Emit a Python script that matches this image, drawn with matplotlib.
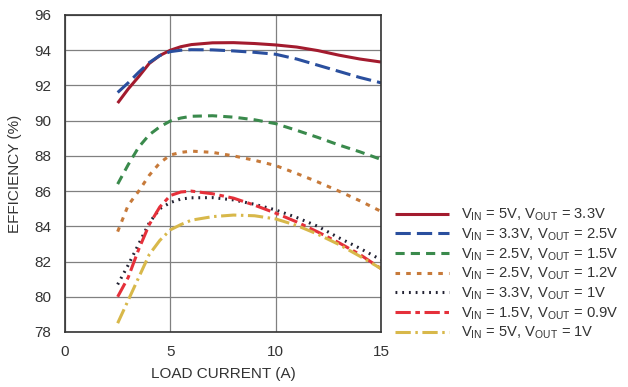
import matplotlib
matplotlib.use("Agg")
import matplotlib.pyplot as plt
from matplotlib import font_manager

names = {f.name for f in font_manager.fontManager.ttflist}
fam = "Liberation Sans Narrow" if "Liberation Sans Narrow" in names else "Liberation Sans"
plt.rcParams['font.family'] = [fam, 'DejaVu Sans']
plt.rcParams['mathtext.default'] = 'regular'

x = [2.5, 3, 3.5, 4, 4.5, 5, 5.5, 6, 7, 8, 9, 10, 11, 12, 13, 14, 15]
s_5_33 = [91.0, 91.8, 92.5, 93.25, 93.7, 94.0, 94.2, 94.32, 94.42, 94.43, 94.38, 94.3, 94.18, 93.98, 93.72, 93.5, 93.33]
s_33_25 = [91.6, 92.15, 92.75, 93.3, 93.7, 93.92, 94.0, 94.03, 94.02, 93.96, 93.88, 93.77, 93.5, 93.15, 92.8, 92.45, 92.15]
s_25_15 = [86.4, 87.5, 88.5, 89.2, 89.65, 89.98, 90.15, 90.25, 90.28, 90.2, 90.05, 89.83, 89.45, 89.05, 88.62, 88.23, 87.8]
s_25_12 = [83.7, 85.2, 86.0, 86.9, 87.6, 88.05, 88.2, 88.27, 88.2, 88.0, 87.75, 87.45, 87.0, 86.52, 86.0, 85.45, 84.85]
s_33_1 = [80.7, 81.8, 83.0, 84.2, 85.0, 85.35, 85.55, 85.62, 85.63, 85.5, 85.25, 84.93, 84.5, 84.0, 83.35, 82.75, 82.1]
s_15_09 = [80.0, 81.1, 82.7, 84.1, 85.1, 85.75, 85.95, 86.0, 85.85, 85.6, 85.2, 84.75, 84.25, 83.68, 83.07, 82.4, 81.6]
s_5_1 = [78.5, 79.8, 81.1, 82.4, 83.2, 83.8, 84.1, 84.35, 84.55, 84.64, 84.6, 84.42, 84.05, 83.55, 82.97, 82.3, 81.6]

labels = [
    "V$_{IN}$ = 5V, V$_{OUT}$ = 3.3V",
    "V$_{IN}$ = 3.3V, V$_{OUT}$ = 2.5V",
    "V$_{IN}$ = 2.5V, V$_{OUT}$ = 1.5V",
    "V$_{IN}$ = 2.5V, V$_{OUT}$ = 1.2V",
    "V$_{IN}$ = 3.3V, V$_{OUT}$ = 1V",
    "V$_{IN}$ = 1.5V, V$_{OUT}$ = 0.9V",
    "V$_{IN}$ = 5V, V$_{OUT}$ = 1V",
]
series = [s_5_33, s_33_25, s_25_15, s_25_12, s_33_1, s_15_09, s_5_1]
colors = ['#a31b2e', '#2a4f9e', '#3a8a4c', '#c77a3a', '#222233', '#e5303a', '#d8b84a']
styles = ['-', (0, (5, 2)), (0, (3, 2)), (0, (1.5, 2)), (0, (0.6, 1.6)),
          (0, (5, 1.5, 1.5, 1.5)), (0, (5, 1.5, 0.8, 1.5))]

fig = plt.figure(figsize=(6.28, 3.87), dpi=100)
ax = fig.add_axes([65/628, 1-332/387, (381-65)/628, (332-15)/387])

handles = []
for s, c, ls, lab in zip(series, colors, styles, labels):
    h, = ax.plot(x, s, color=c, linestyle=ls, lw=2.2, label=lab,
                 dash_capstyle='butt', solid_capstyle='butt')
    handles.append(h)

ax.set_xlim(0, 15)
ax.set_ylim(78, 96)
ax.set_xticks([0, 5, 10, 15])
ax.set_yticks(range(78, 97, 2))
ax.grid(True, color='#808080', lw=0.9)
ax.tick_params(length=0, labelsize=11, colors='#333333')
ax.tick_params(axis='y', pad=10)
ax.tick_params(axis='x', pad=9)
for sp in ax.spines.values():
    sp.set_color('#333333')
    sp.set_linewidth(1.2)
ax.set_xlabel("LOAD CURRENT (A)", fontsize=11, color='#333333', labelpad=6)
ax.set_ylabel("EFFICIENCY (%)", fontsize=11, color='#333333', labelpad=9)

fig.legend(handles=handles, loc='upper left', bbox_to_anchor=(395/628, 1-207/387),
           frameon=False, fontsize=10.6, handlelength=3.7, handletextpad=0.8,
           labelspacing=0.22, borderaxespad=0, borderpad=0, labelcolor='#333333')

fig.savefig("out.png", dpi=100)
